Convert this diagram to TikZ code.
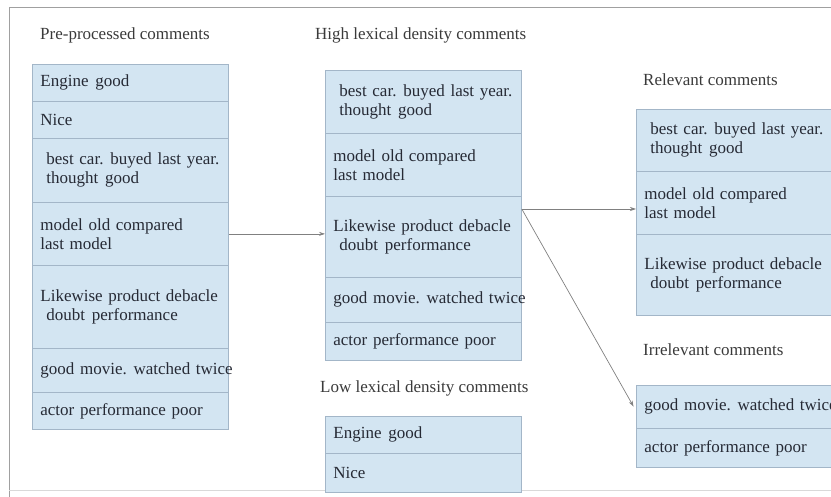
\documentclass[tikz,border=0pt]{standalone}
\usepackage{fontspec}
\setmainfont{Liberation Serif}
\usetikzlibrary{arrows.meta}
\definecolor{boxfill}{HTML}{D3E5F2}
\definecolor{boxline}{HTML}{A3B6C8}
\definecolor{txt}{HTML}{262A35}
\definecolor{ttl}{HTML}{3A3A3A}
\definecolor{frame}{HTML}{A0A0A0}
\definecolor{arrowc}{HTML}{808080}
\tikzset{
  rowbox/.style={draw=boxline, fill=boxfill, line width=0.8pt, anchor=north west,
    text width=180pt, inner xsep=8pt, inner ysep=0pt, align=left,
    font=\fontsize{17}{19}\selectfont, text=txt},
  title/.style={anchor=west, inner sep=0pt, font=\fontsize{17}{19}\selectfont, text=ttl},
  conn/.style={draw=arrowc, line width=0.7pt, -{Stealth[length=6pt,width=4pt]}}
}
\newcommand{\dsp}{\hspace{0.4em}}
\newcommand{\ind}{\hspace*{6pt}}
\begin{document}
\begin{tikzpicture}[x=1pt,y=-1pt]
\useasboundingbox (0,0) rectangle (831,497);
\clip (0,0) rectangle (831,497);
\draw[frame, line width=0.8pt] (9,7) -- (845,7);
\draw[frame, line width=0.8pt] (9,7) -- (9,497);
\draw[frame!40, line width=0.5pt] (9,490) -- (845,490);

% Left column
\node[title] (tL) at (40,35) {Pre-processed comments};
\node[rowbox, minimum height=37pt] (L1) at (32,64) {Engine\dsp good};
\node[rowbox, minimum height=37pt] (L2) at (32,101) {Nice};
\node[rowbox, minimum height=64pt] (L3) at (32,138) {\ind best car.\dsp buyed last year.\\\ind thought\dsp good};
\node[rowbox, minimum height=63pt] (L4) at (32,202) {model old compared\\last model};
\node[rowbox, minimum height=83pt] (L5) at (32,265) {Likewise product debacle\\\ind doubt\dsp performance};
\node[rowbox, minimum height=44pt] (L6) at (32,348) {\mbox{good movie.\dsp watched\ twice}};
\node[rowbox, minimum height=37pt] (L7) at (32,392) {actor performance poor};

% Middle column
\node[title] (tM) at (315,35) {High lexical density comments};
\node[rowbox, minimum height=63pt] (M1) at (325,70) {\ind best car.\dsp buyed last year.\\\ind thought\dsp good};
\node[rowbox, minimum height=63pt] (M2) at (325,133) {model old compared\\last model};
\node[rowbox, minimum height=81pt] (M3) at (325,196) {Likewise product debacle\\\ind doubt\dsp performance};
\node[rowbox, minimum height=45pt] (M4) at (325,277) {\mbox{good movie.\dsp watched\ twice}};
\node[rowbox, minimum height=38pt] (M5) at (325,322) {actor performance poor};

\node[title] (tLow) at (320,388) {Low lexical density comments};
\node[rowbox, minimum height=37pt] (N1) at (325,416) {Engine\dsp good};
\node[rowbox, minimum height=39pt] (N2) at (325,453) {Nice};

% Right column
\node[title] (tR) at (643,80) {Relevant comments};
\node[rowbox, minimum height=62pt] (R1) at (636,109) {\ind best car.\dsp buyed last year.\\\ind thought\dsp good};
\node[rowbox, minimum height=63pt] (R2) at (636,171) {model old compared\\last model};
\node[rowbox, minimum height=81pt] (R3) at (636,234) {Likewise product debacle\\\ind doubt\dsp performance};

\node[title] (tI) at (643,350) {Irrelevant comments};
\node[rowbox, minimum height=43pt] (I1) at (636,385) {\mbox{good movie.\dsp watched\ twice}};
\node[rowbox, minimum height=39pt] (I2) at (636,428) {actor performance poor};

% Connectors
\draw[conn] (L4.east) -- (L4.east -| M3.west);
\coordinate (split) at ([yshift=-13pt]M3.north east);
\draw[conn] (split) -- (split -| R2.west);
\draw[conn, shorten >=5pt] (split) -- ([yshift=-4pt]I1.west);
\end{tikzpicture}
\end{document}
